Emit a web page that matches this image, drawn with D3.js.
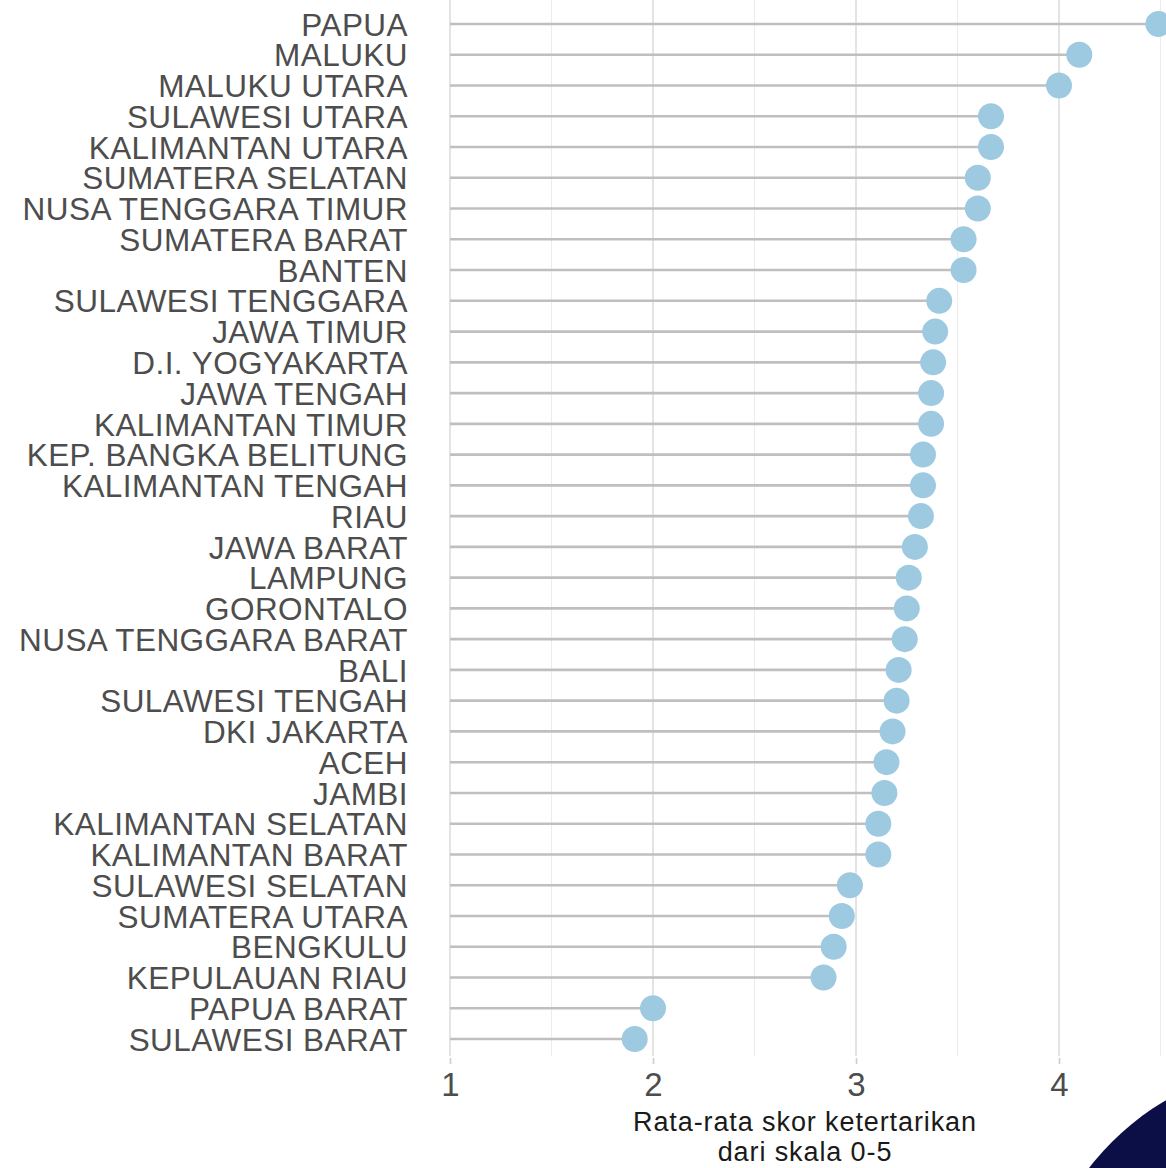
<!DOCTYPE html>
<html>
<head>
<meta charset="utf-8">
<script src="https://cdn.jsdelivr.net/npm/d3@7"></script>
<style>
  html, body { margin: 0; padding: 0; background: #fff; overflow: hidden; }
  svg { display: block; }
  text { font-family: "Liberation Sans", Arial, sans-serif; }
</style>
</head>
<body>
<svg class="chart"></svg>
<script>
const provinces = [
  'PAPUA', 'MALUKU', 'MALUKU UTARA', 'SULAWESI UTARA', 'KALIMANTAN UTARA',
  'SUMATERA SELATAN', 'NUSA TENGGARA TIMUR', 'SUMATERA BARAT', 'BANTEN',
  'SULAWESI TENGGARA', 'JAWA TIMUR', 'D.I. YOGYAKARTA', 'JAWA TENGAH',
  'KALIMANTAN TIMUR', 'KEP. BANGKA BELITUNG', 'KALIMANTAN TENGAH', 'RIAU',
  'JAWA BARAT', 'LAMPUNG', 'GORONTALO', 'NUSA TENGGARA BARAT', 'BALI',
  'SULAWESI TENGAH', 'DKI JAKARTA', 'ACEH', 'JAMBI', 'KALIMANTAN SELATAN',
  'KALIMANTAN BARAT', 'SULAWESI SELATAN', 'SUMATERA UTARA', 'BENGKULU',
  'KEPULAUAN RIAU', 'PAPUA BARAT', 'SULAWESI BARAT'
]
const scores = [
  4.49, 4.10, 4.00, 3.665, 3.665,
  3.60, 3.60, 3.53, 3.53,
  3.41, 3.39, 3.38, 3.37,
  3.37, 3.33, 3.33, 3.32,
  3.29, 3.26, 3.25, 3.24, 3.21,
  3.20, 3.18, 3.15, 3.14, 3.11,
  3.11, 2.97, 2.93, 2.89,
  2.84, 2.00, 1.91
]
const majorTicks = [1, 2, 3, 4]
const minorTicks = [1.5, 2.5, 3.5, 4.5]
const axisTitle = ['Rata-rata skor ketertarikan', 'dari skala 0-5']

const width = 1166
const height = 1168
const panelBottom = 1056

const data = provinces.map((name, i) => ({ name, score: scores[i] }))

const x = d3.scaleLinear().domain([1, 4]).range([450, 1059])
const y = d3.scalePoint().domain(provinces).range([24, 1039])

const chart = d3.select('.chart')
  .attr('width', width)
  .attr('height', height)

// grid
chart.append('g').attr('class', 'minor')
  .selectAll('line')
  .data(minorTicks)
  .enter()
  .append('line')
  .attr('x1', d => x(d)).attr('x2', d => x(d))
  .attr('y1', 0).attr('y2', panelBottom)
  .attr('stroke', '#ececec')
  .attr('stroke-width', 1)

chart.append('g').attr('class', 'major')
  .selectAll('line')
  .data(majorTicks)
  .enter()
  .append('line')
  .attr('x1', d => x(d)).attr('x2', d => x(d))
  .attr('y1', 0).attr('y2', panelBottom)
  .attr('stroke', '#dedede')
  .attr('stroke-width', 1.6)

// x axis
const xAxis = chart.append('g')
  .attr('transform', `translate(0,${panelBottom + 2})`)
  .call(d3.axisBottom(x).tickValues(majorTicks).tickSize(6).tickPadding(9).tickFormat(d3.format('d')))
xAxis.select('.domain').remove()
xAxis.selectAll('.tick line').attr('stroke', '#cccccc').attr('stroke-width', 1.6)
xAxis.selectAll('.tick text')
  .attr('fill', '#4d4d4d')
  .attr('font-size', '33px')
  .attr('font-family', '"Liberation Sans", Arial, sans-serif')

// axis title
chart.append('text')
  .attr('x', 805)
  .attr('text-anchor', 'middle')
  .attr('font-size', '27px')
  .attr('letter-spacing', '0.9px')
  .attr('fill', '#1a1a1a')
  .selectAll('tspan')
  .data(axisTitle)
  .enter()
  .append('tspan')
  .attr('x', 805)
  .attr('y', (d, i) => 1131 + i * 30)
  .text(d => d)

// y labels
chart.append('g').attr('class', 'labels')
  .selectAll('text')
  .data(provinces)
  .enter()
  .append('text')
  .attr('x', 408)
  .attr('y', d => y(d))
  .attr('dy', '0.37em')
  .attr('text-anchor', 'end')
  .attr('font-size', '31.5px')
  .attr('letter-spacing', '0.45px')
  .attr('fill', '#4d4d4d')
  .text(d => d)

// stems
chart.append('g').attr('class', 'stems')
  .selectAll('line')
  .data(data)
  .enter()
  .append('line')
  .attr('x1', x(1))
  .attr('x2', d => x(d.score))
  .attr('y1', d => y(d.name))
  .attr('y2', d => y(d.name))
  .attr('stroke', '#bfbfbf')
  .attr('stroke-width', 2.6)

// dots
chart.append('g').attr('class', 'dots')
  .selectAll('circle')
  .data(data)
  .enter()
  .append('circle')
  .attr('cx', d => x(d.score))
  .attr('cy', d => y(d.name))
  .attr('r', 13)
  .attr('fill', '#9ecae1')

// corner decoration
chart.append('circle')
  .attr('cx', 1300)
  .attr('cy', 1330)
  .attr('r', 266)
  .attr('fill', '#0b0f45')
</script>
</body>
</html>
